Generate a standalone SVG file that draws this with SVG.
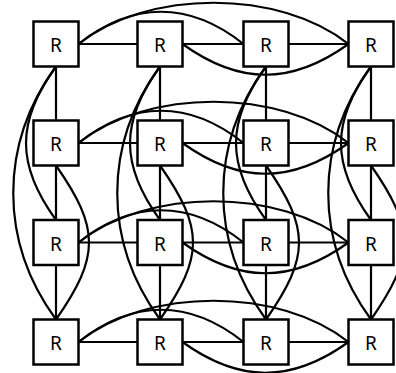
<svg xmlns="http://www.w3.org/2000/svg" width="396" height="373" viewBox="0 0 396 373">
<style>
.e{fill:none;stroke:#000;stroke-width:2.2}
.n rect{fill:#fff;stroke:#000;stroke-width:2.5}
.n text{font-family:"Noto Sans","Open Sans",sans-serif;font-size:19px;text-anchor:middle;fill:#000}
</style>
<rect width="396" height="373" fill="#fff"/>
<g id="edges" class="e">
<path d="M78.5,44H137.5M182.5,44H243.5M288.5,44H348.5"/>
<path d="M78.5,143H137.5M182.5,143H243.5M288.5,143H348.5"/>
<path d="M78.5,242.5H137.5M182.5,242.5H243.5M288.5,242.5H348.5"/>
<path d="M78.5,342H137.5M182.5,342H243.5M288.5,342H348.5"/>
<path d="M78.5,44C132.5,1 189.5,1 243.5,44"/>
<path d="M78.5,44C148.5,-11 278.5,-11 348.5,44"/>
<path d="M182.5,44C239.5,85 291.5,85 348.5,44"/>
<path d="M78.5,143C132.5,100 189.5,100 243.5,143"/>
<path d="M78.5,143C148.5,88 278.5,88 348.5,143"/>
<path d="M182.5,143C239.5,184 291.5,184 348.5,143"/>
<path d="M78.5,242.5C132.5,199.5 189.5,199.5 243.5,242.5"/>
<path d="M78.5,242.5C148.5,187.5 278.5,187.5 348.5,242.5"/>
<path d="M182.5,242.5C239.5,283.5 291.5,283.5 348.5,242.5"/>
<path d="M78.5,342C132.5,299 189.5,299 243.5,342"/>
<path d="M78.5,342C148.5,287 278.5,287 348.5,342"/>
<path d="M182.5,342C239.5,383 291.5,383 348.5,342"/>
<path d="M56,66.5V120.5M56,165.5V220M56,265V319.5"/>
<path d="M160,66.5V120.5M160,165.5V220M160,265V319.5"/>
<path d="M266,66.5V120.5M266,165.5V220M266,265V319.5"/>
<path d="M371,66.5V120.5M371,165.5V220M371,265V319.5"/>
<path d="M56,66.5C16,121.5 16,165 56,220"/>
<path d="M56,66.5C-1,144.5 -1,241.5 56,319.5"/>
<path d="M56,165.5C100,228.5 100,256.5 56,319.5"/>
<path d="M160,66.5C120,121.5 120,165 160,220"/>
<path d="M160,66.5C103,144.5 103,241.5 160,319.5"/>
<path d="M160,165.5C204,228.5 204,256.5 160,319.5"/>
<path d="M266,66.5C226,121.5 226,165 266,220"/>
<path d="M266,66.5C209,144.5 209,241.5 266,319.5"/>
<path d="M266,165.5C310,228.5 310,256.5 266,319.5"/>
<path d="M371,66.5C331,121.5 331,165 371,220"/>
<path d="M371,66.5C314,144.5 314,241.5 371,319.5"/>
<path d="M371,165.5C415,228.5 415,256.5 371,319.5"/>
</g>
<g id="r11" class="n"><rect x="33.5" y="21.5" width="45" height="45"/><text x="56" y="52">R</text></g>
<g id="r12" class="n"><rect x="137.5" y="21.5" width="45" height="45"/><text x="160" y="52">R</text></g>
<g id="r13" class="n"><rect x="243.5" y="21.5" width="45" height="45"/><text x="266" y="52">R</text></g>
<g id="r14" class="n"><rect x="348.5" y="21.5" width="45" height="45"/><text x="371" y="52">R</text></g>
<g id="r21" class="n"><rect x="33.5" y="120.5" width="45" height="45"/><text x="56" y="151">R</text></g>
<g id="r22" class="n"><rect x="137.5" y="120.5" width="45" height="45"/><text x="160" y="151">R</text></g>
<g id="r23" class="n"><rect x="243.5" y="120.5" width="45" height="45"/><text x="266" y="151">R</text></g>
<g id="r24" class="n"><rect x="348.5" y="120.5" width="45" height="45"/><text x="371" y="151">R</text></g>
<g id="r31" class="n"><rect x="33.5" y="220" width="45" height="45"/><text x="56" y="250.5">R</text></g>
<g id="r32" class="n"><rect x="137.5" y="220" width="45" height="45"/><text x="160" y="250.5">R</text></g>
<g id="r33" class="n"><rect x="243.5" y="220" width="45" height="45"/><text x="266" y="250.5">R</text></g>
<g id="r34" class="n"><rect x="348.5" y="220" width="45" height="45"/><text x="371" y="250.5">R</text></g>
<g id="r41" class="n"><rect x="33.5" y="319.5" width="45" height="45"/><text x="56" y="350">R</text></g>
<g id="r42" class="n"><rect x="137.5" y="319.5" width="45" height="45"/><text x="160" y="350">R</text></g>
<g id="r43" class="n"><rect x="243.5" y="319.5" width="45" height="45"/><text x="266" y="350">R</text></g>
<g id="r44" class="n"><rect x="348.5" y="319.5" width="45" height="45"/><text x="371" y="350">R</text></g>
</svg>
